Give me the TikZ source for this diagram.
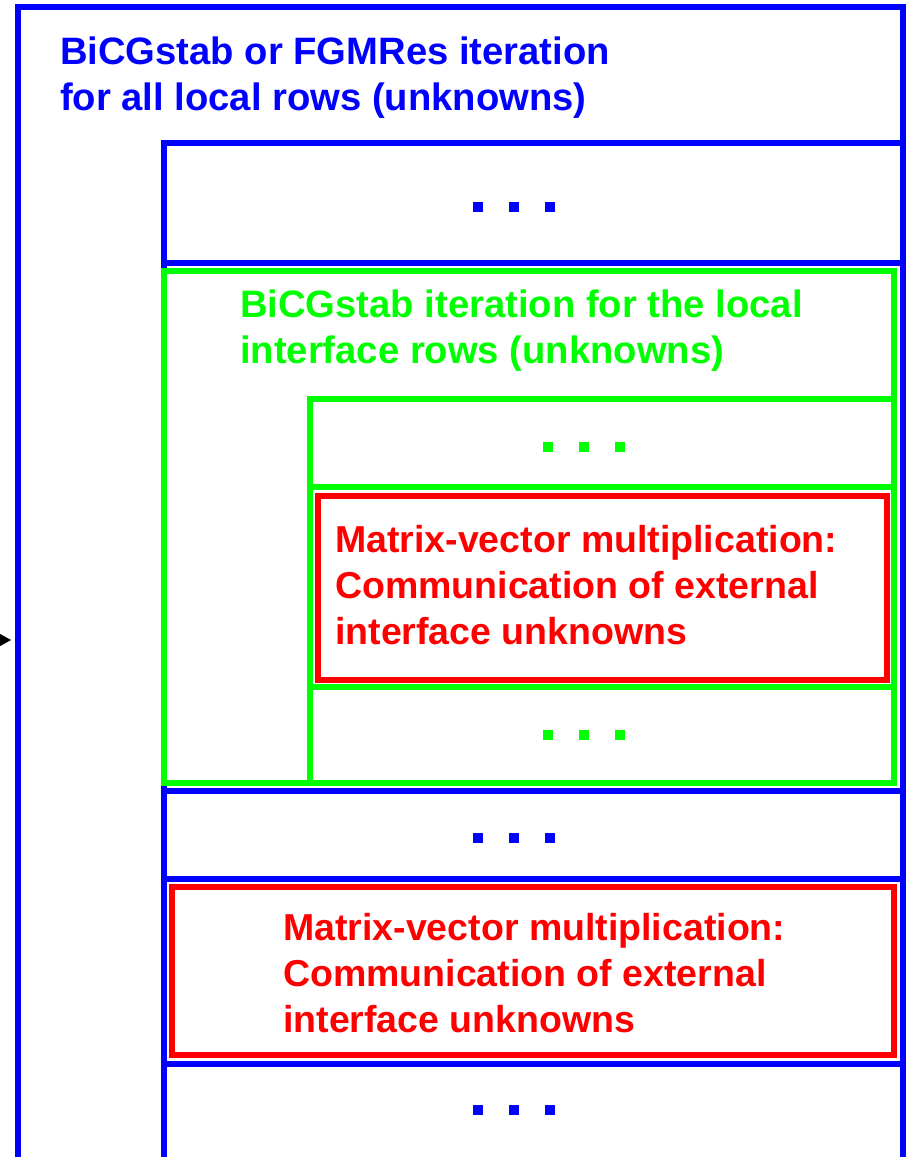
\documentclass[tikz,border=0pt]{standalone}
\usepackage{fontspec}
\setmainfont{Liberation Sans}
\usetikzlibrary{arrows.meta}
\definecolor{pblue}{RGB}{0,0,255}
\definecolor{pgreen}{RGB}{0,255,0}
\definecolor{pred}{RGB}{255,0,0}
\tikzset{
  bluebox/.style={draw=pblue,line width=6pt},
  greenbox/.style={draw=pgreen,line width=5.5pt},
  redbox/.style={draw=pred,line width=6pt},
  lbl/.style={anchor=base west,inner sep=0pt,font=\bfseries\fontsize{37.5}{46}\selectfont},
  biglbl/.style={anchor=base west,inner sep=0pt,font=\bfseries\fontsize{38.2}{46}\selectfont},
  bluetxt/.style={biglbl,text=pblue},
  greentxt/.style={biglbl,text=pgreen},
  redtxt/.style={lbl,text=pred},
  dotsq/.style={minimum size=10pt,inner sep=0pt,draw=none},
}
\begin{document}
\begin{tikzpicture}[x=1pt,y=-1pt]
\clip (0,0) rectangle (906,1157);
\fill[white] (0,0) rectangle (906,1157);
% outer frame
\draw[bluebox] (18,1200) -- (18,7) -- (903,7) -- (903,1200);
% inner blue column
\draw[bluebox] (164,1200) -- (164,143) -- (903,143);
\draw[bluebox] (164,263) -- (903,263);
\draw[bluebox] (164,791) -- (903,791);
\draw[bluebox] (164,879) -- (903,879);
\draw[bluebox] (164,1064) -- (903,1064);
% green box
\draw[greenbox] (164,271) rectangle (894,783);
\draw[greenbox] (310,783) -- (310,399) -- (894,399);
\draw[greenbox] (310,487) -- (894,487);
\draw[greenbox] (310,687) -- (894,687);
% red boxes
\draw[redbox] (318,496) rectangle (887,680);
\draw[redbox] (172,887) rectangle (894,1055);
% texts
\node[bluetxt] (t1a) at (60,64) {BiCGstab or FGMRes iteration};
\node[bluetxt] (t1b) at (60,110) {for all local rows (unknowns)};
\node[greentxt] (t2a) at (240,317) {BiCGstab iteration for the local};
\node[greentxt] (t2b) at (240,363) {interface rows (unknowns)};
\node[redtxt] (t3a) at (335,552) {Matrix-vector multiplication:};
\node[redtxt] (t3b) at (335,598) {Communication of external};
\node[redtxt] (t3c) at (335,644) {interface unknowns};
\node[redtxt] (t4a) at (283,940) {Matrix-vector multiplication:};
\node[redtxt] (t4b) at (283,986) {Communication of external};
\node[redtxt] (t4c) at (283,1032) {interface unknowns};
% dots
\foreach \y/\n in {207/a,838/b,1110/c}{
  \foreach \x/\m in {478/1,514/2,550/3}{
    \node[dotsq,fill=pblue] (db\n\m) at (\x,\y) {};
  }
}
\foreach \y/\n in {447/a,735/b}{
  \foreach \x/\m in {548/1,584/2,620/3}{
    \node[dotsq,fill=pgreen] (dg\n\m) at (\x,\y) {};
  }
}
% arrow
\coordinate (as) at (-40,640);
\coordinate (ae) at (11,640);
\draw[line width=1pt,-{Triangle[length=12pt,width=13pt]}] (as) -- (ae);
\end{tikzpicture}
\end{document}
